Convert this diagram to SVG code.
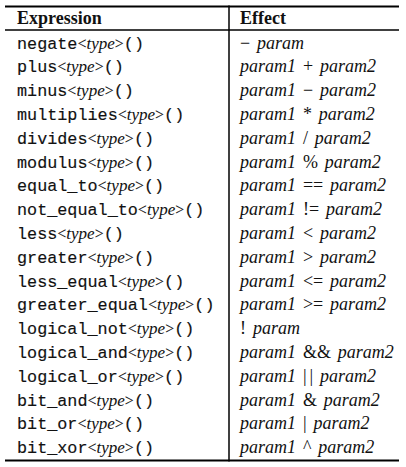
<svg xmlns="http://www.w3.org/2000/svg" width="406" height="467" viewBox="0 0 406 467">
<style>
.hd{font-family:"Liberation Serif","Times New Roman",serif;font-weight:bold;font-size:18px;fill:#111}
.ex{font-family:"Liberation Mono","Courier New",monospace;font-size:16.8px;fill:#111;stroke:#111;stroke-width:0.15px}
.ty{font-family:"Liberation Serif","Times New Roman",serif;font-style:italic;font-size:17px;stroke-width:0.05px}
.ab{font-style:normal;font-size:16px}
.ef{font-family:"Liberation Serif","Times New Roman",serif;font-style:italic;font-size:18px;fill:#111;word-spacing:2.4px}
.op{font-style:normal}
.rule{stroke:#000;fill:none}
</style>
<rect width="406" height="467" fill="#fff"/>
<g id="rules">
<line class="rule" x1="5" y1="6.5" x2="399" y2="6.5" stroke-width="2"/>
<line class="rule" x1="5" y1="30" x2="399" y2="30" stroke-width="1.5"/>
<line class="rule" x1="5" y1="460.5" x2="399" y2="460.5" stroke-width="2"/>
<line class="rule" x1="229" y1="5.5" x2="229" y2="461.5" stroke-width="1.5"/>
</g>
<g id="header">
<text class="hd" x="17" y="24">Expression</text>
<text class="hd" x="240" y="24">Effect</text>
</g>
<g id="row-negate"><text class="ex" x="17" y="48.5">negate<tspan class="ty"><tspan class="ab">&lt;</tspan>type<tspan class="ab">&gt;</tspan></tspan>()</text><text class="ef" x="240" y="48.5"><tspan class="op">−</tspan> param</text></g>
<g id="row-plus"><text class="ex" x="17" y="72.3">plus<tspan class="ty"><tspan class="ab">&lt;</tspan>type<tspan class="ab">&gt;</tspan></tspan>()</text><text class="ef" x="240" y="72.3">param1 <tspan class="op">+</tspan> param2</text></g>
<g id="row-minus"><text class="ex" x="17" y="96.1">minus<tspan class="ty"><tspan class="ab">&lt;</tspan>type<tspan class="ab">&gt;</tspan></tspan>()</text><text class="ef" x="240" y="96.1">param1 <tspan class="op">−</tspan> param2</text></g>
<g id="row-multiplies"><text class="ex" x="17" y="119.9">multiplies<tspan class="ty"><tspan class="ab">&lt;</tspan>type<tspan class="ab">&gt;</tspan></tspan>()</text><text class="ef" x="240" y="119.9">param1 <tspan class="op">*</tspan> param2</text></g>
<g id="row-divides"><text class="ex" x="17" y="143.7">divides<tspan class="ty"><tspan class="ab">&lt;</tspan>type<tspan class="ab">&gt;</tspan></tspan>()</text><text class="ef" x="240" y="143.7">param1 <tspan class="op">/</tspan> param2</text></g>
<g id="row-modulus"><text class="ex" x="17" y="167.5">modulus<tspan class="ty"><tspan class="ab">&lt;</tspan>type<tspan class="ab">&gt;</tspan></tspan>()</text><text class="ef" x="240" y="167.5">param1 <tspan class="op">%</tspan> param2</text></g>
<g id="row-equal_to"><text class="ex" x="17" y="191.3">equal_to<tspan class="ty"><tspan class="ab">&lt;</tspan>type<tspan class="ab">&gt;</tspan></tspan>()</text><text class="ef" x="240" y="191.3">param1 <tspan class="op">==</tspan> param2</text></g>
<g id="row-not_equal_to"><text class="ex" x="17" y="215.1">not_equal_to<tspan class="ty"><tspan class="ab">&lt;</tspan>type<tspan class="ab">&gt;</tspan></tspan>()</text><text class="ef" x="240" y="215.1">param1 <tspan class="op">!=</tspan> param2</text></g>
<g id="row-less"><text class="ex" x="17" y="238.9">less<tspan class="ty"><tspan class="ab">&lt;</tspan>type<tspan class="ab">&gt;</tspan></tspan>()</text><text class="ef" x="240" y="238.9">param1 <tspan class="op">&lt;</tspan> param2</text></g>
<g id="row-greater"><text class="ex" x="17" y="262.7">greater<tspan class="ty"><tspan class="ab">&lt;</tspan>type<tspan class="ab">&gt;</tspan></tspan>()</text><text class="ef" x="240" y="262.7">param1 <tspan class="op">&gt;</tspan> param2</text></g>
<g id="row-less_equal"><text class="ex" x="17" y="286.5">less_equal<tspan class="ty"><tspan class="ab">&lt;</tspan>type<tspan class="ab">&gt;</tspan></tspan>()</text><text class="ef" x="240" y="286.5">param1 <tspan class="op">&lt;=</tspan> param2</text></g>
<g id="row-greater_equal"><text class="ex" x="17" y="310.3">greater_equal<tspan class="ty"><tspan class="ab">&lt;</tspan>type<tspan class="ab">&gt;</tspan></tspan>()</text><text class="ef" x="240" y="310.3">param1 <tspan class="op">&gt;=</tspan> param2</text></g>
<g id="row-logical_not"><text class="ex" x="17" y="334.1">logical_not<tspan class="ty"><tspan class="ab">&lt;</tspan>type<tspan class="ab">&gt;</tspan></tspan>()</text><text class="ef" x="240" y="334.1"><tspan class="op">!</tspan> param</text></g>
<g id="row-logical_and"><text class="ex" x="17" y="357.9">logical_and<tspan class="ty"><tspan class="ab">&lt;</tspan>type<tspan class="ab">&gt;</tspan></tspan>()</text><text class="ef" x="240" y="357.9">param1 <tspan class="op">&amp;&amp;</tspan> param2</text></g>
<g id="row-logical_or"><text class="ex" x="17" y="381.7">logical_or<tspan class="ty"><tspan class="ab">&lt;</tspan>type<tspan class="ab">&gt;</tspan></tspan>()</text><text class="ef" x="240" y="381.7">param1 <tspan class="op">|</tspan><tspan class="op" dx="3">|</tspan> param2</text></g>
<g id="row-bit_and"><text class="ex" x="17" y="405.5">bit_and<tspan class="ty"><tspan class="ab">&lt;</tspan>type<tspan class="ab">&gt;</tspan></tspan>()</text><text class="ef" x="240" y="405.5">param1 <tspan class="op">&amp;</tspan> param2</text></g>
<g id="row-bit_or"><text class="ex" x="17" y="429.3">bit_or<tspan class="ty"><tspan class="ab">&lt;</tspan>type<tspan class="ab">&gt;</tspan></tspan>()</text><text class="ef" x="240" y="429.3">param1 <tspan class="op">|</tspan> param2</text></g>
<g id="row-bit_xor"><text class="ex" x="17" y="453.1">bit_xor<tspan class="ty"><tspan class="ab">&lt;</tspan>type<tspan class="ab">&gt;</tspan></tspan>()</text><text class="ef" x="240" y="453.1">param1 <tspan class="op">^</tspan> param2</text></g>
</svg>
